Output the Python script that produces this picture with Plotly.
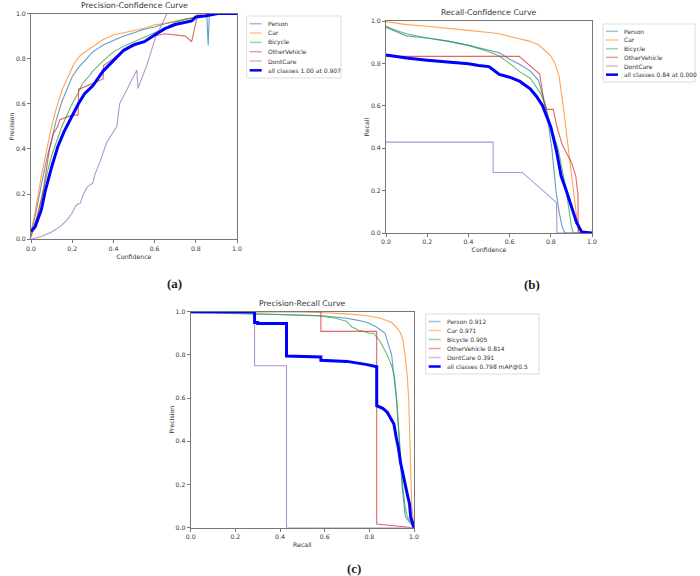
import plotly.graph_objects as go

W, H = 700, 576

# ---- classes & styling -------------------------------------------------------
CLASSES = ["Person", "Car", "Bicycle", "OtherVehicle", "DontCare"]
COLORS = ["#1f77b4", "#ff7f0e", "#2ca02c", "#d62728", "#9467bd"]
MAP50 = ["0.912", "0.971", "0.905", "0.814", "0.391"]

# ---- (a) precision-confidence -------------------------------------------------
pc_person_x = [0, 0.02, 0.05, 0.08, 0.1, 0.12, 0.15, 0.18, 0.2, 0.23, 0.26, 0.3, 0.35, 0.4, 0.45,
               0.5, 0.55, 0.6, 0.65, 0.7, 0.75, 0.8, 0.84, 0.854, 0.86, 0.866, 0.88, 1.0]
pc_person_y = [0.03, 0.1, 0.24, 0.37, 0.44, 0.52, 0.61, 0.68, 0.72, 0.76, 0.79, 0.83, 0.86, 0.88, 0.9,
               0.915, 0.93, 0.94, 0.955, 0.965, 0.975, 0.985, 0.99, 0.985, 0.86, 1.0, 1.0, 1.0]
pc_car_x = [0, 0.02, 0.05, 0.08, 0.1, 0.12, 0.15, 0.18, 0.21, 0.24, 0.27, 0.3, 0.35, 0.4, 0.45,
            0.5, 0.55, 0.6, 0.65, 0.7, 0.75, 0.8, 0.83, 1.0]
pc_car_y = [0.03, 0.12, 0.28, 0.42, 0.5, 0.57, 0.66, 0.72, 0.78, 0.815, 0.835, 0.855, 0.885, 0.905, 0.915,
            0.925, 0.935, 0.95, 0.955, 0.965, 0.975, 0.985, 1.0, 1.0]
pc_bicycle_x = [0, 0.03, 0.05, 0.08, 0.1, 0.13, 0.15, 0.18, 0.2, 0.23, 0.25, 0.28, 0.3, 0.35, 0.4,
                0.45, 0.5, 0.55, 0.6, 0.65, 0.7, 0.75, 0.8, 0.85, 0.9, 1.0]
pc_bicycle_y = [0.02, 0.1, 0.17, 0.3, 0.37, 0.45, 0.5, 0.56, 0.6, 0.65, 0.69, 0.72, 0.745, 0.79, 0.83,
                0.855, 0.875, 0.895, 0.915, 0.935, 0.96, 0.975, 0.98, 0.99, 1.0, 1.0]
pc_other_x = [0, 0.03, 0.06, 0.09, 0.11, 0.13, 0.14, 0.17, 0.2, 0.229, 0.231, 0.26, 0.3, 0.35, 0.352,
              0.4, 0.45, 0.5, 0.55, 0.6, 0.65, 0.7, 0.75, 0.78, 0.81, 1.0]
pc_other_y = [0.01, 0.1, 0.22, 0.4, 0.47, 0.5, 0.53, 0.54, 0.55, 0.55, 0.665, 0.675, 0.69, 0.71, 0.77,
              0.8, 0.84, 0.855, 0.875, 0.9, 0.91, 0.905, 0.9, 0.875, 1.0, 1.0]
pc_dontcare_x = [0, 0.05, 0.1, 0.14, 0.173, 0.198, 0.214, 0.225, 0.238, 0.254, 0.274, 0.3, 0.311, 0.335,
                 0.368, 0.4, 0.417, 0.43, 0.514, 0.519, 0.562, 0.603, 0.66, 1.0]
pc_dontcare_y = [0, 0.012, 0.032, 0.055, 0.084, 0.114, 0.143, 0.155, 0.158, 0.2, 0.232, 0.25, 0.29, 0.343,
                 0.43, 0.475, 0.5, 0.6, 0.75, 0.668, 0.77, 0.89, 1.0, 1.0]
pc_all_x = [0, 0.02, 0.05, 0.07, 0.1, 0.13, 0.16, 0.2, 0.23, 0.26, 0.3, 0.35, 0.4, 0.45, 0.5,
            0.55, 0.6, 0.65, 0.7, 0.75, 0.78, 0.8, 0.85, 0.907, 1.0]
pc_all_y = [0.035, 0.055, 0.13, 0.217, 0.32, 0.41, 0.476, 0.55, 0.6, 0.645, 0.68, 0.745, 0.79, 0.837, 0.862,
            0.875, 0.905, 0.933, 0.951, 0.96, 0.967, 0.985, 0.99, 1.0, 1.0]

# ---- (b) recall-confidence ----------------------------------------------------
rc_person_x = [0, 0.05, 0.1, 0.2, 0.3, 0.4, 0.5, 0.55, 0.6, 0.65, 0.7, 0.74, 0.775, 0.79, 0.805,
               0.815, 0.825, 0.84, 0.855, 0.868, 1.0]
rc_person_y = [0.97, 0.95, 0.93, 0.92, 0.905, 0.885, 0.86, 0.85, 0.82, 0.795, 0.765, 0.72, 0.6, 0.5, 0.4,
               0.3, 0.2, 0.1, 0.03, 0, 0]
rc_car_x = [0, 0.1, 0.2, 0.3, 0.4, 0.5, 0.55, 0.6, 0.65, 0.7, 0.74, 0.78, 0.8, 0.82, 0.84, 0.86,
            0.885, 0.908, 0.92, 0.93, 0.935, 1.0]
rc_car_y = [0.997, 0.983, 0.975, 0.967, 0.956, 0.946, 0.94, 0.927, 0.915, 0.904, 0.888, 0.856, 0.836, 0.8,
            0.74, 0.6, 0.4, 0.2, 0.11, 0.03, 0, 0]
rc_bicycle_x = [0, 0.05, 0.1, 0.2, 0.3, 0.4, 0.5, 0.55, 0.6, 0.65, 0.7, 0.75, 0.775, 0.8, 0.835,
                0.855, 0.875, 0.89, 0.9, 0.91, 1.0]
rc_bicycle_y = [0.975, 0.955, 0.94, 0.92, 0.905, 0.885, 0.855, 0.835, 0.8, 0.76, 0.73, 0.66, 0.6, 0.5, 0.4,
                0.3, 0.2, 0.1, 0.03, 0, 0]
rc_other_x = [0, 0.646, 0.746, 0.77, 0.779, 0.812, 0.83, 0.855, 0.9, 0.921, 0.932, 0.933, 1.0]
rc_other_y = [0.833, 0.833, 0.75, 0.6, 0.583, 0.583, 0.5, 0.417, 0.333, 0.27, 0.18, 0, 0]
rc_dontcare_x = [0, 0.52, 0.52, 0.662, 0.828, 0.83, 1.0]
rc_dontcare_y = [0.4286, 0.4286, 0.2857, 0.2857, 0.143, 0, 0]
rc_all_x = [0, 0.1, 0.2, 0.3, 0.4, 0.45, 0.5, 0.52, 0.55, 0.6, 0.65, 0.7, 0.73, 0.76, 0.8,
            0.827, 0.85, 0.875, 0.9, 0.925, 0.95, 1.0]
rc_all_y = [0.84, 0.825, 0.815, 0.808, 0.798, 0.79, 0.785, 0.77, 0.748, 0.735, 0.715, 0.68, 0.645, 0.6, 0.5,
            0.39, 0.27, 0.2, 0.12, 0.05, 0.005, 0]

# ---- (c) precision-recall -----------------------------------------------------
pr_person_x = [0, 0.3, 0.5, 0.6, 0.7, 0.75, 0.79, 0.83, 0.87, 0.9, 0.921, 0.934, 0.946, 0.961, 0.975, 1.0]
pr_person_y = [0.995, 0.99, 0.985, 0.98, 0.97, 0.96, 0.95, 0.93, 0.9, 0.8, 0.6, 0.4, 0.2, 0.05, 0.03, 0.0]
pr_car_x = [0, 0.5, 0.6, 0.7, 0.8, 0.85, 0.9, 0.92, 0.94, 0.95, 0.96, 0.97, 0.976, 0.98, 0.985, 0.99, 1.0]
pr_car_y = [1.0, 1.0, 0.995, 0.99, 0.98, 0.97, 0.95, 0.93, 0.9, 0.87, 0.8, 0.7, 0.6, 0.45, 0.3, 0.1, 0.0]
pr_bicycle_x = [0, 0.3, 0.5, 0.58, 0.65, 0.7, 0.72, 0.75, 0.8, 0.82, 0.85, 0.88, 0.9, 0.912, 0.922,
                0.934, 0.949, 0.96, 0.97, 0.99, 1.0]
pr_bicycle_y = [1.0, 0.99, 0.985, 0.98, 0.97, 0.955, 0.93, 0.915, 0.9, 0.9, 0.86, 0.8, 0.75, 0.7, 0.6,
                0.4, 0.2, 0.1, 0.05, 0.02, 0.0]
pr_other_x = [0, 0.583, 0.583, 0.833, 0.833, 1.0]
pr_other_y = [1.0, 1.0, 0.909, 0.909, 0.017, 0.0]
pr_dontcare_x = [0, 0.286, 0.286, 0.429, 0.429, 1.0]
pr_dontcare_y = [1.0, 1.0, 0.75, 0.75, 0.0, 0.0]
pr_all_x = [0, 0.286, 0.286, 0.3, 0.3, 0.429, 0.429, 0.583, 0.583, 0.7, 0.79, 0.833, 0.833, 0.86,
            0.88, 0.895, 0.91, 0.92, 0.93, 0.94, 0.955, 0.97, 0.98, 0.985, 1.0]
pr_all_y = [1.0, 1.0, 0.95, 0.95, 0.945, 0.945, 0.795, 0.79, 0.775, 0.77, 0.755, 0.745, 0.565, 0.553,
            0.535, 0.51, 0.48, 0.42, 0.37, 0.3, 0.22, 0.155, 0.11, 0.05, 0.0]

PANELS = [
    dict(ax="", title="Precision-Confidence Curve", xt="Confidence", yt="Precision",
         curves=[(pc_person_x, pc_person_y), (pc_car_x, pc_car_y), (pc_bicycle_x, pc_bicycle_y),
                 (pc_other_x, pc_other_y), (pc_dontcare_x, pc_dontcare_y)],
         allc=(pc_all_x, pc_all_y), all_label="all classes 1.00 at 0.907",
         labels=CLASSES,
         box=(31, 13.5, 237, 239.3), leg=(246.7, 16, 341, 78), tag="(a)", tagpos=(174, 283)),
    dict(ax="2", title="Recall-Confidence Curve", xt="Confidence", yt="Recall",
         curves=[(rc_person_x, rc_person_y), (rc_car_x, rc_car_y), (rc_bicycle_x, rc_bicycle_y),
                 (rc_other_x, rc_other_y), (rc_dontcare_x, rc_dontcare_y)],
         allc=(rc_all_x, rc_all_y), all_label="all classes 0.84 at 0.000",
         labels=CLASSES,
         box=(386, 21, 592, 233), leg=(603, 24, 695, 82), tag="(b)", tagpos=(532, 284)),
    dict(ax="3", title="Precision-Recall Curve", xt="Recall", yt="Precision",
         curves=[(pr_person_x, pr_person_y), (pr_car_x, pr_car_y), (pr_bicycle_x, pr_bicycle_y),
                 (pr_other_x, pr_other_y), (pr_dontcare_x, pr_dontcare_y)],
         allc=(pr_all_x, pr_all_y), all_label="all classes 0.798 mAP@0.5",
         labels=[f"{c} {m}" for c, m in zip(CLASSES, MAP50)],
         box=(190.7, 311.7, 414, 527.7), leg=(425.7, 314, 539, 374), tag="(c)", tagpos=(354, 568)),
]

FONT = "DejaVu Sans"
TXT = "#333333"


def px(x):
    return x / W


def py(y):
    return 1 - y / H


fig = go.Figure()
shapes, annos = [], []
axes = {}

for p in PANELS:
    a = p["ax"]
    x0, y0, x1, y1 = p["box"]
    for (xs, ys), col, name in zip(p["curves"], COLORS, p["labels"]):
        fig.add_scatter(x=xs, y=ys, mode="lines", name=name, showlegend=False,
                        line=dict(color=col, width=1.1), opacity=0.7,
                        xaxis="x" + a, yaxis="y" + a)
    fig.add_scatter(x=p["allc"][0], y=p["allc"][1], mode="lines", name=p["all_label"],
                    showlegend=False, line=dict(color="#0000ff", width=3),
                    xaxis="x" + a, yaxis="y" + a)

    common = dict(range=[0, 1], dtick=0.2, tickformat=".1f", showgrid=False, zeroline=False,
                  showline=True, linecolor="#777777", linewidth=1, mirror=True,
                  ticks="outside", ticklen=3, tickcolor="#777777", automargin=False,
                  tickfont=dict(family=FONT, size=6.2, color=TXT))
    axes["xaxis" + a] = dict(common, domain=[px(x0), px(x1)], anchor="y" + a,
                             title=dict(text=p["xt"], standoff=3, font=dict(family=FONT, size=6.2, color=TXT)))
    axes["yaxis" + a] = dict(common, domain=[py(y1), py(y0)], anchor="x" + a,
                             title=dict(text=p["yt"], standoff=0, font=dict(family=FONT, size=6.2, color=TXT)))

    # panel title and sub-figure tag
    annos.append(dict(text=p["title"], x=px((x0 + x1) / 2), y=py(y0 - 2), xref="paper", yref="paper",
                      xanchor="center", yanchor="bottom", showarrow=False,
                      font=dict(family=FONT, size=7.8, color=TXT)))
    annos.append(dict(text="<b>%s</b>" % p["tag"], x=px(p["tagpos"][0]), y=py(p["tagpos"][1]),
                      xref="paper", yref="paper", xanchor="center", yanchor="middle", showarrow=False,
                      font=dict(family="Liberation Serif", size=13, color="#222222")))

    # matplotlib-like legend box
    lx0, ly0, lx1, ly1 = p["leg"]
    shapes.append(dict(type="rect", xref="paper", yref="paper", x0=px(lx0), x1=px(lx1),
                       y0=py(ly1), y1=py(ly0), line=dict(color="#dddddd", width=1),
                       fillcolor="rgba(255,255,255,0.8)", layer="above"))
    step = (ly1 - ly0 - 6) / 6
    entries = list(zip(p["labels"], COLORS, [1.5] * 5, [0.45] * 5)) + [(p["all_label"], "#0000ff", 2.5, 1)]
    for i, (lab, col, w, op) in enumerate(entries):
        yy = ly0 + 3 + step * (i + 0.5)
        shapes.append(dict(type="line", xref="paper", yref="paper", x0=px(lx0 + 3), x1=px(lx0 + 15),
                           y0=py(yy), y1=py(yy), line=dict(color=col, width=w), opacity=op, layer="above"))
        annos.append(dict(text=lab, x=px(lx0 + 19), y=py(yy), xref="paper", yref="paper",
                          xanchor="left", yanchor="middle", showarrow=False,
                          font=dict(family=FONT, size=6, color=TXT)))

fig.update_layout(width=W, height=H, margin=dict(l=0, r=0, t=0, b=0, autoexpand=False),
                  paper_bgcolor="white", plot_bgcolor="white", showlegend=False,
                  shapes=shapes, annotations=annos, **axes)

# drop the browser's default 8px body margin so the figure fills the window
fig.write_html("out.html", config={"displayModeBar": False},
               post_script="document.body.style.margin='0';")
